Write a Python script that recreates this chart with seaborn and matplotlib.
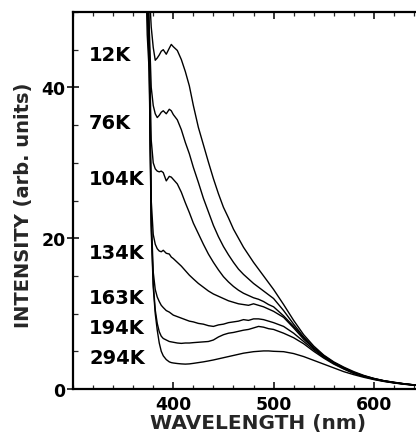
import numpy as np
import pandas as pd
import matplotlib
matplotlib.use("Agg")
import matplotlib.pyplot as plt
from matplotlib.ticker import MultipleLocator, FixedLocator
import seaborn as sns

# Wavelength grid (nm) shared by all spectra
wavelength = [370, 374, 376, 378, 380, 382, 384, 386, 388, 390,
              393, 396, 398, 400, 404, 408, 412, 416, 420, 425,
              430, 435, 440, 445, 450, 455, 460, 465, 470, 475,
              480, 485, 490, 495, 500, 510, 520, 530, 540, 550,
              560, 570, 580, 590, 600, 610, 620, 630, 640, 645]

# Emission intensity (arb. units) at each temperature
i_12K = [95, 62, 53, 48, 45.3, 43.6, 43.9, 44.3, 44.8, 45.0,
         44.4, 45.2, 45.7, 45.4, 44.9, 43.7, 42.1, 40.2, 37.6, 34.7,
         32.4, 30.1, 27.9, 25.9, 24.1, 22.7, 21.2, 20.0, 18.8, 17.8,
         16.8, 15.9, 15.0, 14.1, 13.2, 11.2, 9.1, 7.2, 5.7, 4.5,
         3.6, 2.9, 2.3, 1.8, 1.4, 1.1, 0.9, 0.7, 0.55, 0.5]
i_76K = [93, 61, 48, 40, 37.6, 36.5, 36.0, 36.3, 36.7, 36.9,
         36.5, 37.1, 36.9, 36.4, 35.7, 34.4, 32.7, 31.2, 29.4, 27.4,
         25.3, 23.5, 21.7, 20.2, 18.9, 17.8, 16.8, 15.9, 15.2, 14.6,
         14.0, 13.5, 13.0, 12.5, 12.0, 10.4, 8.6, 6.9, 5.5, 4.4,
         3.5, 2.8, 2.2, 1.75, 1.4, 1.1, 0.88, 0.7, 0.55, 0.5]
i_104K = [90, 58, 46, 33, 30.0, 29.2, 28.9, 28.8, 28.9, 28.7,
          27.6, 28.2, 28.1, 27.8, 27.2, 26.1, 24.7, 23.4, 22.0, 20.6,
          19.2, 17.9, 16.8, 15.8, 14.9, 14.2, 13.6, 13.1, 12.7, 12.4,
          12.1, 11.9, 11.6, 11.2, 10.9, 9.7, 8.3, 6.8, 5.4, 4.4,
          3.5, 2.8, 2.2, 1.7, 1.35, 1.08, 0.86, 0.68, 0.54, 0.48]
i_134K = [85, 55, 45, 25, 20.5, 19.2, 18.6, 18.3, 18.2, 18.4,
          18.0, 17.9, 17.5, 17.3, 16.8, 16.3, 15.7, 15.1, 14.6, 14.0,
          13.5, 13.0, 12.6, 12.3, 12.0, 11.7, 11.5, 11.3, 11.2, 11.1,
          11.3, 11.1, 10.9, 10.6, 10.3, 9.5, 8.1, 6.6, 5.4, 4.3,
          3.45, 2.75, 2.15, 1.7, 1.35, 1.07, 0.85, 0.68, 0.53, 0.48]
i_163K = [78, 52, 44, 23, 15.5, 13.2, 12.2, 11.6, 11.1, 10.8,
          10.4, 10.2, 10.0, 9.8, 9.6, 9.4, 9.2, 9.0, 8.9, 8.7,
          8.6, 8.4, 8.3, 8.5, 8.6, 8.8, 8.9, 9.0, 9.2, 9.1,
          9.3, 9.3, 9.2, 9.0, 8.8, 8.3, 7.4, 6.3, 5.2, 4.2,
          3.4, 2.7, 2.1, 1.68, 1.33, 1.05, 0.84, 0.67, 0.52, 0.47]
i_194K = [75, 50, 43, 22, 14, 10.5, 8.7, 7.6, 7.0, 6.7,
          6.5, 6.3, 6.25, 6.2, 6.1, 6.05, 6.1, 6.1, 6.15, 6.2,
          6.25, 6.3, 6.5, 6.9, 7.2, 7.4, 7.5, 7.65, 7.8, 7.9,
          8.1, 8.3, 8.2, 8.0, 7.9, 7.4, 6.8, 6.0, 5.0, 4.1,
          3.3, 2.65, 2.05, 1.65, 1.3, 1.03, 0.82, 0.65, 0.51, 0.46]
i_294K = [70, 47, 42, 21, 13.5, 10, 7.8, 6.1, 5.0, 4.4,
          3.9, 3.6, 3.5, 3.45, 3.38, 3.33, 3.3, 3.33, 3.4, 3.5,
          3.6, 3.72, 3.85, 4.0, 4.15, 4.3, 4.45, 4.6, 4.75, 4.85,
          4.95, 5.0, 5.05, 5.05, 5.0, 4.95, 4.7, 4.3, 3.8, 3.3,
          2.8, 2.3, 1.9, 1.55, 1.25, 1.0, 0.8, 0.63, 0.5, 0.45]

temperatures = ["12K", "76K", "104K", "134K", "163K", "194K", "294K"]
spectra = [i_12K, i_76K, i_104K, i_134K, i_163K, i_194K, i_294K]

# Curve labels: vertical position (intensity units) and left edge (nm)
label_y = [44.4, 35.4, 27.9, 18.1, 12.1, 8.2, 4.2]
label_x = 316

df = pd.concat(
    [pd.DataFrame({"wavelength": wavelength, "intensity": s, "T": t})
     for t, s in zip(temperatures, spectra)],
    ignore_index=True,
)

sns.set_theme(style="ticks")
plt.rcParams["font.family"] = ["DejaVu Sans"]
plt.rcParams["font.weight"] = "bold"

fig = plt.figure(figsize=(4.16, 4.39), dpi=100)
ax = fig.add_axes([73 / 416, 49 / 439, 343 / 416, 377 / 439])

sns.lineplot(data=df, x="wavelength", y="intensity", hue="T",
             hue_order=temperatures, palette=["black"] * len(temperatures),
             estimator=None, legend=False, linewidth=1.0, ax=ax)

for t, y in zip(temperatures, label_y):
    ax.text(label_x, y, t, ha="left", va="center", fontsize=14,
            fontweight="bold", color="black")

ax.set_xlim(300, 642)
ax.set_ylim(0, 50)

ax.xaxis.set_major_locator(FixedLocator([400, 500, 600]))
ax.xaxis.set_minor_locator(MultipleLocator(20))
ax.yaxis.set_major_locator(FixedLocator([0, 20, 40]))
ax.yaxis.set_minor_locator(MultipleLocator(5))

ax.tick_params(axis="x", which="major", direction="in", length=5, width=1.1,
               top=True, labelsize=12.5, pad=4, colors="black")
ax.tick_params(axis="x", which="minor", direction="in", length=3, width=0.9,
               top=True)
ax.tick_params(axis="y", which="major", direction="inout", length=8.5,
               width=1.1, labelsize=12.5, pad=1, colors="black")
ax.tick_params(axis="y", which="minor", direction="in", length=3.5, width=0.9)
for lab in ax.get_xticklabels() + ax.get_yticklabels():
    lab.set_fontweight("bold")

for side in ("left", "bottom", "top"):
    ax.spines[side].set_linewidth(1.6)
    ax.spines[side].set_color("black")
ax.spines["right"].set_visible(False)

ax.set_xlabel("WAVELENGTH (nm)", fontsize=14.5, fontweight="bold")
ax.set_ylabel("INTENSITY (arb. units)", fontsize=14, fontweight="bold")
ax.xaxis.set_label_coords((258 - 73) / 343, (390 - 424) / 377)
ax.yaxis.set_label_coords((24 - 73) / 343, (390 - 205) / 377)
ax.xaxis.label.set_va("center")
ax.yaxis.label.set_va("center")

fig.savefig("out.png", dpi=100)
